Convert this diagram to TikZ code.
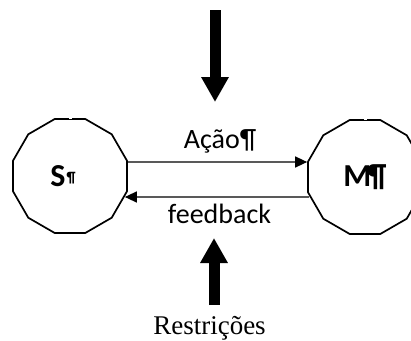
\documentclass[tikz,border=0pt]{standalone}
\usepackage{fontspec}
\setmainfont{Carlito}
\newfontfamily\serifrm{Liberation Serif}
\usetikzlibrary{shapes.geometric,arrows.meta}
\begin{document}
\begin{tikzpicture}[x=1pt,y=-1pt,
  state/.style={regular polygon,regular polygon sides=12,draw,line width=1.7pt,
    inner sep=0pt,minimum size=118pt,font=\fontsize{32}{32}\selectfont\bfseries},
  thin arrow/.style={line width=1.4pt,-{Triangle[length=12pt,width=11pt]}},
  fat arrow/.style={line width=11pt,-{Triangle[length=25pt,width=26pt]}},
  lbl/.style={font=\fontsize{28}{28}\selectfont,inner sep=0pt,anchor=base}]
\useasboundingbox (0,0) rectangle (411,340);
\clip (0,0) rectangle (411,340);
\node[state] (L) at (70,176) {S\kern1pt\raisebox{4pt}{\fontsize{15}{15}\selectfont ¶}\kern14pt};
\node[state] (R) at (365,177) {M\kern-4pt¶};
\draw[white,line width=2pt] ([xshift=-1.5pt]L.north) -- ([xshift=1.5pt]L.north);
\draw[white,line width=2pt] ([xshift=-1.5pt]R.north) -- ([xshift=1.5pt]R.north);
\draw[thin arrow] ([yshift=14pt]L.east) -- ([yshift=15pt]R.west);
\draw[thin arrow] ([yshift=-20pt,xshift=2pt]R.west) -- ([yshift=-21pt,xshift=-3pt]L.east);
\node[lbl] (acao) at (220,148) {Ação¶};
\node[lbl] (fb) at (219.5,223) {feedback};
\node[lbl,font=\fontsize{27}{27}\selectfont\serifrm] (restr) at (209.5,334) {Restrições};
\coordinate (t1) at (215,10);
\coordinate (t2) at (215,102);
\coordinate (b1) at (214,305);
\coordinate (b2) at (214,238);
\draw[fat arrow] (t1) -- (t2);
\draw[fat arrow] (b1) -- (b2);
\end{tikzpicture}
\end{document}
